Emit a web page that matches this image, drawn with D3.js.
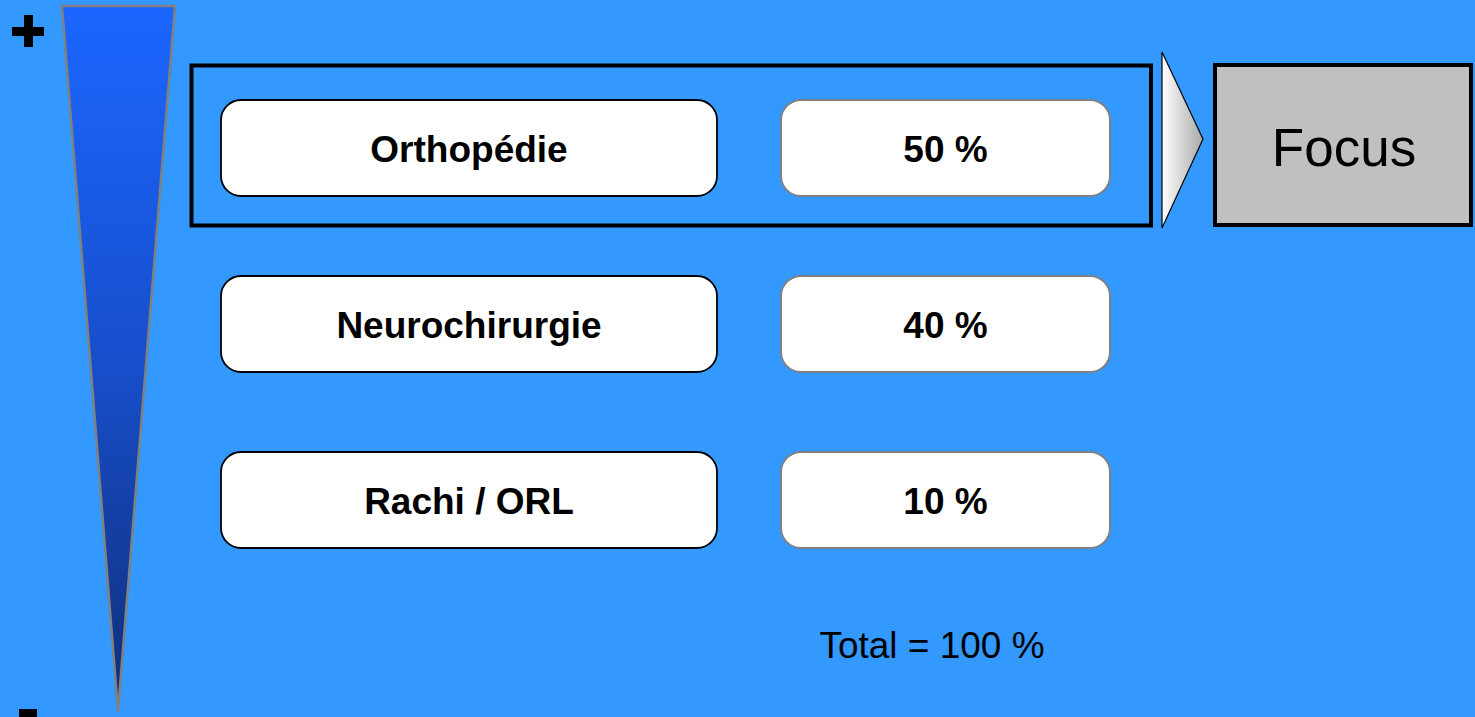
<!DOCTYPE html>
<html>
<head>
<meta charset="utf-8">
<script src="https://cdn.jsdelivr.net/npm/d3@7"></script>
<style>
  html, body { margin: 0; padding: 0; background: #3399ff; overflow: hidden; }
  svg { display: block; font-family: "Liberation Sans", Arial, sans-serif; }
</style>
</head>
<body>
<div id="chart-area"></div>
<script>
// data
const categories = ["Orthopédie", "Neurochirurgie", "Rachi / ORL"];
const shares = [50, 40, 10];
const totalLabel = "Total = 100 %";
const focusLabel = "Focus";
const focusIndex = 0;

const full_width = 1475, full_height = 717;

const svg = d3.select("#chart-area").append("svg")
    .attr("width", full_width)
    .attr("height", full_height);

svg.append("rect")
    .attr("width", full_width)
    .attr("height", full_height)
    .attr("fill", "#3399ff");

const defs = svg.append("defs");

const triGrad = defs.append("linearGradient")
    .attr("id", "triGrad")
    .attr("x1", 0).attr("y1", 0).attr("x2", 0).attr("y2", 1);
triGrad.append("stop").attr("offset", "0%").attr("stop-color", "#1b66ff");
triGrad.append("stop").attr("offset", "50%").attr("stop-color", "#174fcc");
triGrad.append("stop").attr("offset", "100%").attr("stop-color", "#0f2e78");

const arrowGrad = defs.append("linearGradient")
    .attr("id", "arrowGrad")
    .attr("x1", 0).attr("y1", 0).attr("x2", 1).attr("y2", 0);
arrowGrad.append("stop").attr("offset", "0%").attr("stop-color", "#ffffff");
arrowGrad.append("stop").attr("offset", "100%").attr("stop-color", "#a8a8a8");

// priority triangle (+ at top, - at bottom)
svg.append("path")
    .attr("d", "M62,6 L175,6 L118,711 Z")
    .attr("fill", "url(#triGrad)")
    .attr("stroke", "#808080")
    .attr("stroke-width", 2.5)
    .attr("stroke-linejoin", "round");

svg.append("rect")
    .attr("x", 12).attr("y", 27).attr("width", 32).attr("height", 9)
    .attr("fill", "#000");
svg.append("rect")
    .attr("x", 24).attr("y", 15).attr("width", 9).attr("height", 32)
    .attr("fill", "#000");
svg.append("rect")
    .attr("x", 19).attr("y", 709).attr("width", 18).attr("height", 10)
    .attr("fill", "#000");

// rows
const y = d3.scalePoint()
    .domain(categories)
    .range([148, 500]);

const boxH = 96;
const labelX = d3.scaleLinear().domain([0, 1]).range([221, 717]);
const valueX = d3.scaleLinear().domain([0, 1]).range([781, 1110]);

const rows = svg.selectAll("g.row")
    .data(categories.map((c, i) => ({ cat: c, val: shares[i] })))
    .enter()
    .append("g")
    .attr("class", "row");

rows.append("rect")
    .attr("x", labelX(0))
    .attr("y", d => y(d.cat) - boxH / 2)
    .attr("width", labelX(1) - labelX(0))
    .attr("height", boxH)
    .attr("rx", 20)
    .attr("fill", "#fff")
    .attr("stroke", "#000")
    .attr("stroke-width", 1.8);

rows.append("text")
    .attr("x", (labelX(0) + labelX(1)) / 2)
    .attr("y", d => y(d.cat) + 13.5)
    .attr("text-anchor", "middle")
    .attr("font-size", "37px")
    .attr("font-weight", "bold")
    .attr("fill", "#000")
    .text(d => d.cat);

rows.append("rect")
    .attr("x", valueX(0))
    .attr("y", d => y(d.cat) - boxH / 2)
    .attr("width", valueX(1) - valueX(0))
    .attr("height", boxH)
    .attr("rx", 20)
    .attr("fill", "#fff")
    .attr("stroke", "#808080")
    .attr("stroke-width", 2);

rows.append("text")
    .attr("x", (valueX(0) + valueX(1)) / 2)
    .attr("y", d => y(d.cat) + 13.5)
    .attr("text-anchor", "middle")
    .attr("font-size", "37px")
    .attr("font-weight", "bold")
    .attr("fill", "#000")
    .text(d => d.val + " %");

// focus frame around the top row
const fy = y(categories[focusIndex]);
svg.append("rect")
    .attr("x", 191.5)
    .attr("y", fy - 82.5)
    .attr("width", 959.5)
    .attr("height", 160)
    .attr("fill", "none")
    .attr("stroke", "#000")
    .attr("stroke-width", 4);

svg.append("path")
    .attr("d", `M1162,${fy - 96} L1203,${fy - 9} L1162,${fy + 80} Z`)
    .attr("fill", "url(#arrowGrad)")
    .attr("stroke", "#000")
    .attr("stroke-width", 1.2);

svg.append("rect")
    .attr("x", 1215)
    .attr("y", fy - 83)
    .attr("width", 256)
    .attr("height", 160)
    .attr("fill", "#c0c0c0")
    .attr("stroke", "#000")
    .attr("stroke-width", 4);

svg.append("text")
    .attr("x", 1344)
    .attr("y", fy + 18)
    .attr("text-anchor", "middle")
    .attr("font-size", "53px")
    .attr("fill", "#000")
    .text(focusLabel);

svg.append("text")
    .attr("x", 932)
    .attr("y", 658)
    .attr("text-anchor", "middle")
    .attr("font-size", "37px")
    .attr("fill", "#000")
    .text(totalLabel);
</script>
</body>
</html>
